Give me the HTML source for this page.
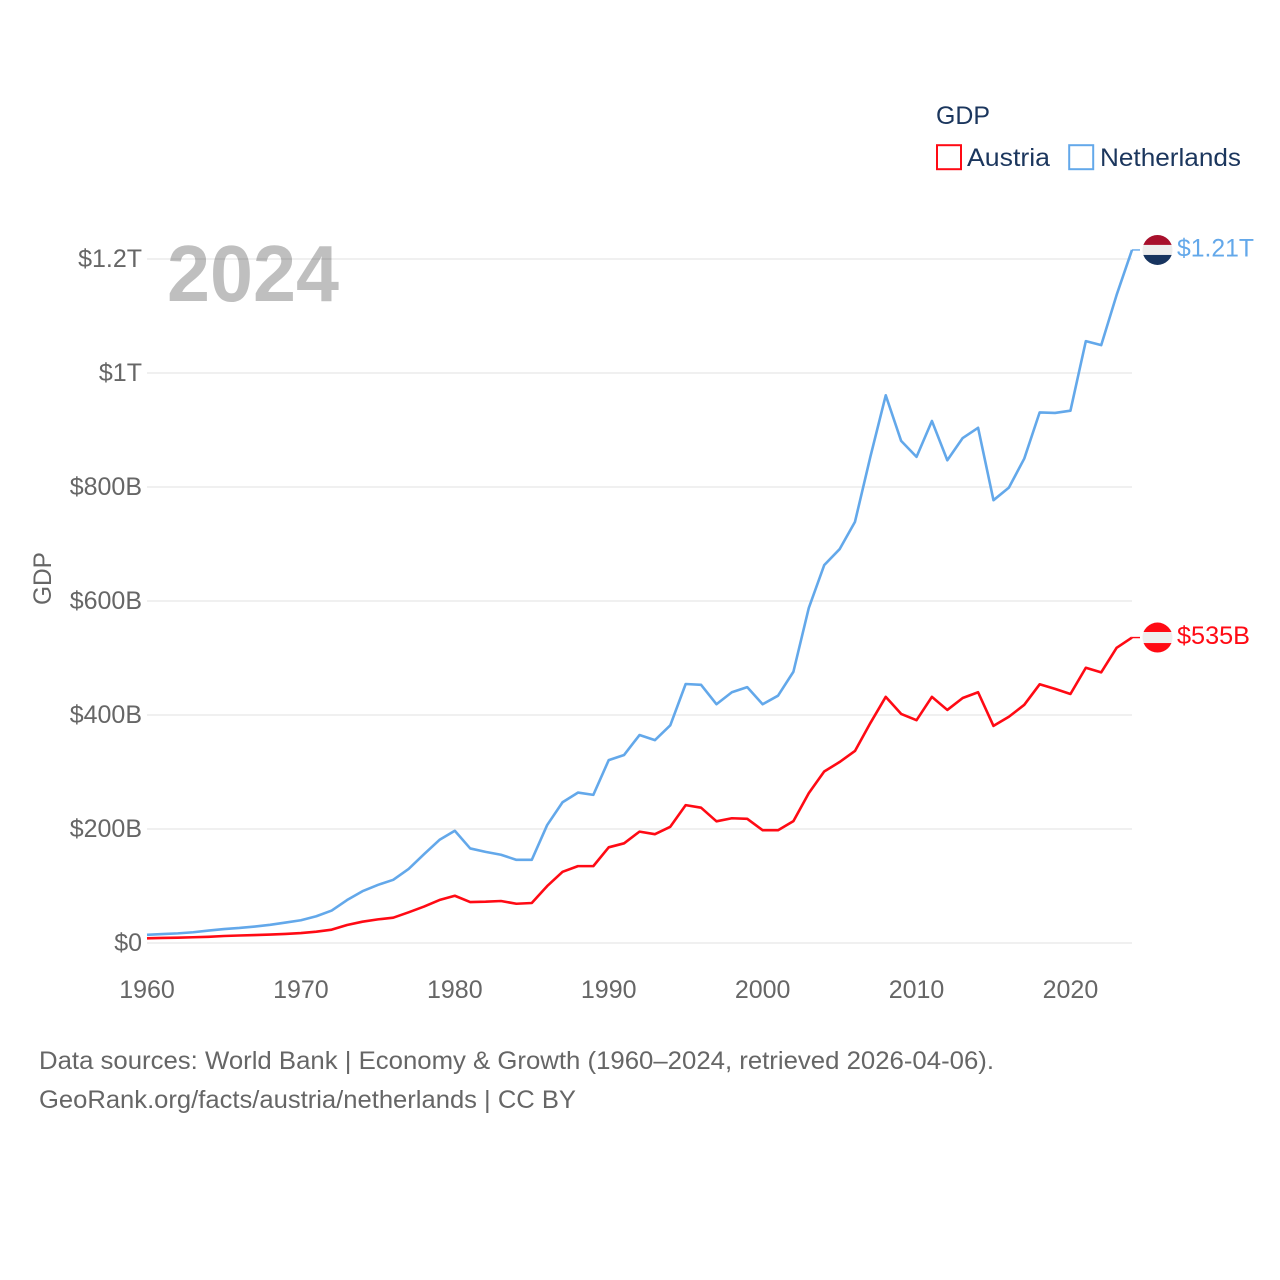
<!DOCTYPE html>
<html lang="en">
<head>
<meta charset="utf-8">
<title>GDP: Austria and Netherlands</title>
<style>
  html, body { margin: 0; padding: 0; background: #fff; }
  svg { display: block; }
  text { font-family: "Liberation Sans", sans-serif; }
</style>
</head>
<body>
<svg id="chart" xmlns="http://www.w3.org/2000/svg" width="1280" height="1280" viewBox="0 0 1280 1280">
  <defs>
    <clipPath id="flag-clip"><circle cx="0" cy="0" r="15"></circle></clipPath>
  </defs>
  <rect x="0" y="0" width="1280" height="1280" fill="#ffffff"></rect>

  <g id="grid" transform="translate(0,0.5)"></g>
  <g id="yticks"></g>
  <g id="xticks"></g>

  <text transform="translate(51,578.5) rotate(-90)" text-anchor="middle" font-size="25" fill="#666666" textLength="53" lengthAdjust="spacingAndGlyphs">GDP</text>

  <text x="167" y="301" font-size="80" font-weight="700" fill="#000000" fill-opacity="0.25" textLength="172" lengthAdjust="spacingAndGlyphs">2024</text>

  <g id="series"></g>

  <g id="flag-netherlands">
    <g clip-path="url(#flag-clip)">
      <rect x="-16" y="-16" width="32" height="11" fill="#a8102c"></rect>
      <rect x="-16" y="-5" width="32" height="10" fill="#eeeeee"></rect>
      <rect x="-16" y="5" width="32" height="11" fill="#17345f"></rect>
    </g>
  </g>
  <g id="flag-austria">
    <g clip-path="url(#flag-clip)">
      <rect x="-16" y="-16" width="32" height="10.5" fill="#ff0a14"></rect>
      <rect x="-16" y="-5.5" width="32" height="11" fill="#eeeeee"></rect>
      <rect x="-16" y="5.5" width="32" height="10.5" fill="#ff0a14"></rect>
    </g>
  </g>

  <text id="label-netherlands" x="1177" font-size="25" fill="#63a8ea" textLength="77" lengthAdjust="spacingAndGlyphs">$1.21T</text>
  <text id="label-austria" x="1177" font-size="25" fill="#ff0a14" textLength="73" lengthAdjust="spacingAndGlyphs">$535B</text>

  <g>
    <text x="936" y="124" font-size="25" fill="#1b365d" textLength="54" lengthAdjust="spacingAndGlyphs">GDP</text>
    <g>
      <rect x="937" y="145.2" width="24" height="24" fill="#ffffff" stroke="#ff0a14" stroke-width="2"></rect>
      <text x="967" y="166" font-size="25" fill="#1b365d" textLength="83" lengthAdjust="spacingAndGlyphs">Austria</text>
    </g>
    <g>
      <rect x="1069.2" y="145.2" width="24" height="24" fill="#ffffff" stroke="#63a8ea" stroke-width="2"></rect>
      <text x="1100" y="166" font-size="25" fill="#1b365d" textLength="141" lengthAdjust="spacingAndGlyphs">Netherlands</text>
    </g>
  </g>

  <g>
    <text x="39" y="1069" font-size="25" fill="#666666" textLength="955" lengthAdjust="spacingAndGlyphs">Data sources: World Bank | Economy &amp; Growth (1960–2024, retrieved 2026-04-06).</text>
    <text x="39" y="1108" font-size="25" fill="#666666" textLength="537" lengthAdjust="spacingAndGlyphs">GeoRank.org/facts/austria/netherlands | CC BY</text>
  </g>
</svg>

<script>
const years = [1960,1961,1962,1963,1964,1965,1966,1967,1968,1969,
  1970,1971,1972,1973,1974,1975,1976,1977,1978,1979,
  1980,1981,1982,1983,1984,1985,1986,1987,1988,1989,
  1990,1991,1992,1993,1994,1995,1996,1997,1998,1999,
  2000,2001,2002,2003,2004,2005,2006,2007,2008,2009,
  2010,2011,2012,2013,2014,2015,2016,2017,2018,2019,
  2020,2021,2022,2023,2024];

// GDP, billions of US dollars
const netherlandsGdp = [13.5,14.8,16,18,21,23.6,25.5,28,31,35,
  39,46,56,74.5,90,101,110,129,155,180,
  196,165,159,154,145,145,206,246,263,259,
  320,329,364,355,381,453.5,452,418,439,448,
  418,433,475,587,662,690,738,852,960,880,
  852,915,846,885,903,776,798,849,930,929,
  933,1055,1048,1136,1215];
const austriaGdp = [7.4,8,8.5,9.2,10,11.4,12.3,13,14,15,
  16.5,19,22.5,30.7,36.5,40.6,43.5,53,63,74.5,
  82,71,71.6,72.8,68,69.3,99,124,134,134,
  167,174,194.5,190,203,241,236.5,212.6,218,217,
  197,197,213,262,300,316.6,336,385,431,401,
  390,431,408,429,439,380,396,417,453,445,
  436,482,474,517,535];

const yTickValues = [0,200,400,600,800,1000,1200];
const yTickLabels = ["$0","$200B","$400B","$600B","$800B","$1T","$1.2T"];
const xTickValues = [1960,1970,1980,1990,2000,2010,2020];
const xTickLabels = ["1960","1970","1980","1990","2000","2010","2020"];

const SVG_NS = "http://www.w3.org/2000/svg";
const plot = { left: 147, right: 1132, bottom: 942.5, top: 258.5 };
function xScale(year) {
  return plot.left + (year - 1960) * (plot.right - plot.left) / (2024 - 1960);
}
function yScale(value) {
  return plot.bottom - value * (plot.bottom - plot.top) / 1200;
}

const gridGroup = document.getElementById("grid");
const yTickGroup = document.getElementById("yticks");
const xTickGroup = document.getElementById("xticks");
const seriesGroup = document.getElementById("series");

yTickValues.forEach(function (value, i) {
  const line = document.createElementNS(SVG_NS, "line");
  
  
  line.setAttribute("x1", plot.left);
  line.setAttribute("x2", plot.right);
  line.setAttribute("y1", yScale(value));
  line.setAttribute("y2", yScale(value));
  line.setAttribute("stroke", "#ebebeb");
  line.setAttribute("stroke-width", "1.6");
  gridGroup.appendChild(line);

  const label = document.createElementNS(SVG_NS, "text");
  
  
  label.setAttribute("x", 142);
  label.setAttribute("y", yScale(value) + 8.5);
  label.setAttribute("text-anchor", "end");
  label.setAttribute("font-size", "25");
  label.setAttribute("fill", "#666666");
  label.textContent = yTickLabels[i];
  yTickGroup.appendChild(label);
});

xTickValues.forEach(function (year, i) {
  const label = document.createElementNS(SVG_NS, "text");
  
  
  label.setAttribute("x", xScale(year));
  label.setAttribute("y", 998);
  label.setAttribute("text-anchor", "middle");
  label.setAttribute("font-size", "25");
  label.setAttribute("fill", "#666666");
  label.textContent = xTickLabels[i];
  xTickGroup.appendChild(label);
});

function pathFor(values) {
  return values.map(function (value, i) {
    return (i === 0 ? "M" : "L") + xScale(years[i]).toFixed(2) + " " + yScale(value).toFixed(2);
  }).join(" ");
}

function lastY(values) {
  return yScale(values[values.length - 1]);
}

// Netherlands line
const netherlandsLine = document.createElementNS(SVG_NS, "path");


netherlandsLine.setAttribute("d", pathFor(netherlandsGdp));
netherlandsLine.setAttribute("fill", "none");
netherlandsLine.setAttribute("stroke", "#63a8ea");
netherlandsLine.setAttribute("stroke-width", "2.6");
netherlandsLine.setAttribute("stroke-linejoin", "round");
seriesGroup.appendChild(netherlandsLine);

// Austria line
const austriaLine = document.createElementNS(SVG_NS, "path");


austriaLine.setAttribute("d", pathFor(austriaGdp));
austriaLine.setAttribute("fill", "none");
austriaLine.setAttribute("stroke", "#ff0a14");
austriaLine.setAttribute("stroke-width", "2.6");
austriaLine.setAttribute("stroke-linejoin", "round");
seriesGroup.appendChild(austriaLine);

// Short connectors from the last point towards the flag markers
const netherlandsConnector = document.createElementNS(SVG_NS, "line");


netherlandsConnector.setAttribute("x1", plot.right);
netherlandsConnector.setAttribute("x2", plot.right + 8);
netherlandsConnector.setAttribute("y1", lastY(netherlandsGdp));
netherlandsConnector.setAttribute("y2", lastY(netherlandsGdp));
netherlandsConnector.setAttribute("stroke", "#63a8ea");
netherlandsConnector.setAttribute("stroke-width", "1.4");
seriesGroup.appendChild(netherlandsConnector);

const austriaConnector = document.createElementNS(SVG_NS, "line");


austriaConnector.setAttribute("x1", plot.right);
austriaConnector.setAttribute("x2", plot.right + 8);
austriaConnector.setAttribute("y1", lastY(austriaGdp));
austriaConnector.setAttribute("y2", lastY(austriaGdp));
austriaConnector.setAttribute("stroke", "#ff0a14");
austriaConnector.setAttribute("stroke-width", "1.4");
seriesGroup.appendChild(austriaConnector);

// End markers and value labels follow the last value
document.getElementById("flag-netherlands").setAttribute("transform", "translate(1157.5," + lastY(netherlandsGdp) + ")");
document.getElementById("flag-austria").setAttribute("transform", "translate(1157.5," + lastY(austriaGdp) + ")");
document.getElementById("label-netherlands").setAttribute("y", lastY(netherlandsGdp) + 6.5);
document.getElementById("label-austria").setAttribute("y", lastY(austriaGdp) + 6.5);
</script>
</body>
</html>
